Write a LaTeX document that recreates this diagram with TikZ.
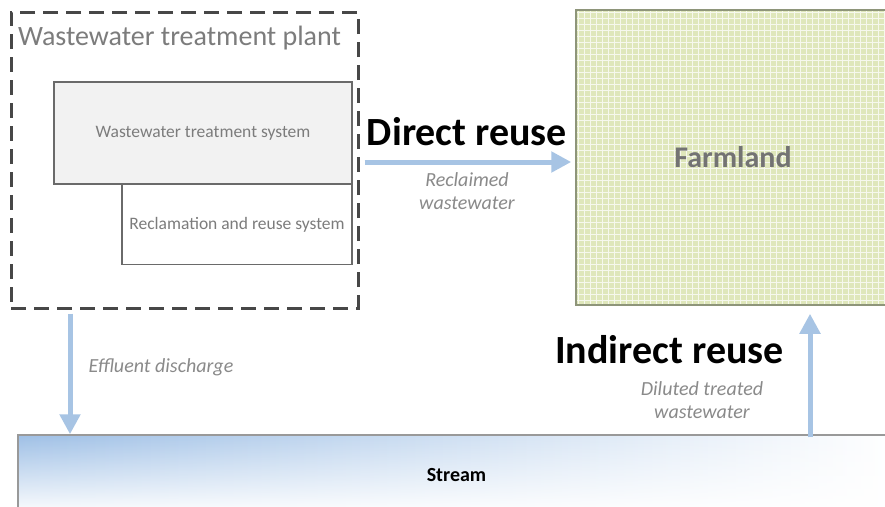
\documentclass[tikz,border=0pt]{standalone}
\usepackage{fontspec}
\setmainfont{Carlito}
\usetikzlibrary{arrows.meta,fadings}
\definecolor{flowblue}{HTML}{A7C4E4}
\definecolor{streamblue}{HTML}{9FC0E6}
\definecolor{farmgreen}{HTML}{DFE7BB}
\definecolor{farmedge}{HTML}{8E957A}
\definecolor{labelgray}{HTML}{8A8A8A}
\definecolor{titlegray}{HTML}{7C7C7C}
\definecolor{edgegray}{HTML}{6A6A6A}
\tikzset{
  flow/.style={flowblue, line width=5pt, -{Triangle[width=20pt,length=20pt]}},
  sysbox/.style={draw=edgegray, line width=1.2pt, inner sep=0pt, text=titlegray,
    font=\fontsize{17.5}{20}\selectfont},
  bigtitle/.style={anchor=base, font=\fontsize{40}{46}\selectfont\bfseries},
  flowlabel/.style={text=labelgray, align=center, font=\fontsize{20}{23}\selectfont\itshape}
}
\begin{document}
\begin{tikzpicture}[x=1pt, y=-1pt]
  \useasboundingbox[fill=white] (0,0) rectangle (885,506);
  \node[draw=black!72, line width=3pt, dash pattern=on 15pt off 8pt, inner sep=0pt,
    minimum width=347pt, minimum height=296pt] (plant) at (184.5,160) {};
  \node[anchor=base, text=titlegray, font=\fontsize{28}{32}\selectfont] (plantlabel)
    at (179.5,45) {Wastewater treatment plant};
  \node[sysbox, fill=white, minimum width=230pt, minimum height=80pt] (rrs)
    at (237,224.5) {Reclamation and reuse system};
  \node[sysbox, fill=black!5, minimum width=298pt, minimum height=102pt] (wts)
    at (203,133) {Wastewater treatment system};
  \node[draw=farmedge, line width=1.5pt, fill=farmgreen, inner sep=0pt,
    minimum width=314pt, minimum height=295pt, text=black!55,
    font=\fontsize{30}{34}\selectfont\bfseries,
    path picture={\draw[white, line width=0.7pt, opacity=0.75, step=6pt]
      (path picture bounding box.south west) grid (path picture bounding box.north east);}]
    (farm) at (733,157.5) {Farmland};
  \node[draw=black!40, line width=1.5pt, inner sep=0pt, minimum width=877pt, minimum height=80pt,
    font=\fontsize{20}{23}\selectfont\bfseries,
    path picture={\shade[left color=streamblue, right color=white, path fading=south]
      (path picture bounding box.north west) rectangle (path picture bounding box.south east);}]
    (stream) at (456.5,475) {Stream};
  \coordinate (dy) at (0,162);
  \coordinate (ex) at (70,0);
  \coordinate (ix) at (810,0);
  \draw[flow] ([xshift=5pt]plant.east |- dy) -- ([xshift=-4pt]farm.west |- dy);
  \draw[flow] ([yshift=-4pt]plant.south -| ex) -- (stream.north -| ex);
  \draw[flow] ([yshift=-3pt]stream.north -| ix) -- ([yshift=-8pt]farm.south -| ix);
  \node[bigtitle] (direct) at (467,145) {Direct reuse};
  \node[bigtitle] (indirect) at (669.5,363) {Indirect reuse};
  \node[flowlabel] (reclaimed) at (467,191.5) {Reclaimed\\wastewater};
  \node[flowlabel] (diluted) at (702,400) {Diluted treated\\wastewater};
  \node[flowlabel] (effluent) at (161,367) {Effluent discharge};
\end{tikzpicture}
\end{document}
